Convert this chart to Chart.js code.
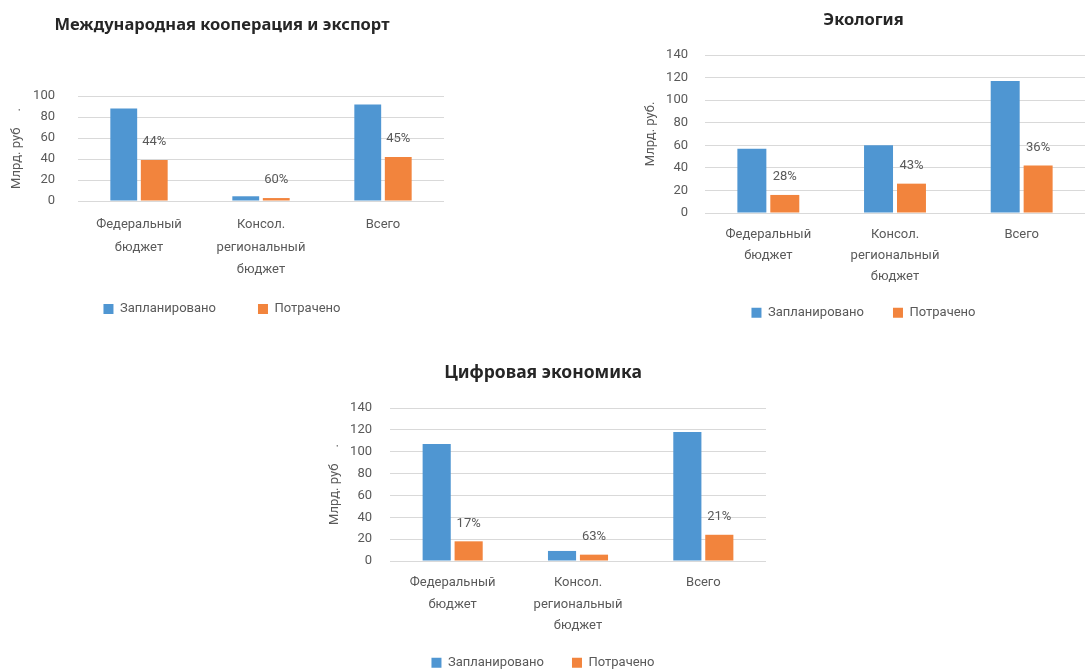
<!DOCTYPE html>
<html lang="ru">
<head>
  <meta charset="UTF-8">
  <title>Нацпроекты - исполнение бюджета</title>
  <script src="https://cdn.jsdelivr.net/npm/chart.js"></script>
  <style>
    html, body { margin: 0; padding: 0; background: #fff; overflow: hidden; }
    body { width: 1085px; height: 670px; position: relative; }
    .box { position: absolute; }
  </style>
</head>
<body>
  <div class="box" style="left:0;top:0;width:444px;height:347px"><canvas id="exportChart"></canvas></div>
  <div class="box" style="left:642px;top:0;width:443px;height:340px"><canvas id="ecoChart"></canvas></div>
  <div class="box" style="left:320px;top:350px;width:446px;height:338px"><canvas id="digitalChart"></canvas></div>

  <script>
    const categories = [['Федеральный', 'бюджет'], ['Консол.', 'региональный', 'бюджет'], 'Всего'];
    const seriesNames = ['Запланировано', 'Потрачено'];
    const axisTitle = 'Млрд. руб';

    // Международная кооперация и экспорт
    const exportPlanned = [88, 4.5, 92];
    const exportSpent = [39, 2.8, 42];
    const exportShare = ['44%', '60%', '45%'];
    const exportMax = 100;

    // Экология
    const ecoPlanned = [57, 60, 117];
    const ecoSpent = [16, 26, 42];
    const ecoShare = ['28%', '43%', '36%'];
    const ecoMax = 140;

    // Цифровая экономика
    const digitalPlanned = [107, 9.2, 118];
    const digitalSpent = [18, 5.8, 24];
    const digitalShare = ['17%', '63%', '21%'];
    const digitalMax = 140;

    const tickStep = 20;

    Chart.defaults.font.family = 'Roboto';
    Chart.defaults.color = '#595959';

    // подписи процентов над оранжевыми столбцами
    const shareLabels = {
      id: 'shareLabels',
      afterDatasetsDraw(chart, args, opts) {
        const ctx = chart.ctx;
        const meta = chart.getDatasetMeta(1);
        ctx.save();
        ctx.font = '13px Roboto';
        ctx.fillStyle = '#595959';
        ctx.textAlign = 'center';
        ctx.textBaseline = 'middle';
        meta.data.forEach((bar, i) => ctx.fillText(opts.labels[i], bar.x, bar.y - 18));
        ctx.restore();
      }
    };

    // легенда ближе к подписям оси, как в исходнике
    const legendShift = {
      id: 'legendShift',
      afterLayout(chart, args, opts) {
        const lg = chart.legend;
        const h = lg.bottom - lg.top;
        lg.top = opts.y - lg.options.labels.padding - 6.5;
        lg.bottom = lg.top + h;
      }
    };

    function makeChart(id, title, planned, spent, share, yMax, g) {
      new Chart(document.getElementById(id), {
        type: 'bar',
        data: {
          labels: categories,
          datasets: [
            { label: seriesNames[0], data: planned, backgroundColor: '#4f96d2' },
            { label: seriesNames[1], data: spent, backgroundColor: '#f2843d' }
          ]
        },
        options: {
          responsive: true,
          maintainAspectRatio: false,
          animation: false,
          categoryPercentage: g.catPct,
          barPercentage: 0.88,
          layout: { padding: 0 },
          plugins: {
            title: {
              display: true,
              text: title,
              color: '#262626',
              font: { size: g.titleSize, weight: 'bold', family: 'Noto Sans', lineHeight: 1.2 },
              padding: { top: g.titleTop, bottom: g.titleBottom }
            },
            legend: {
              position: 'bottom',
              labels: { boxWidth: 10, boxHeight: 10, padding: g.legendPad, font: { size: 13 }, color: '#595959' }
            },
            legendShift: { y: g.legendY },
            tooltip: { enabled: false },
            shareLabels: { labels: share }
          },
          scales: {
            x: {
              grid: { display: false, drawTicks: false },
              border: { display: false },
              ticks: {
                padding: g.xPad,
                maxRotation: 0,
                autoSkip: false,
                font: { size: 13, lineHeight: g.xLine }
              },
              afterFit: s => { s.height = g.xHeight; }
            },
            y: {
              min: 0,
              max: yMax,
              grid: { color: '#d9d9d9', drawTicks: false },
              border: { display: false },
              ticks: { stepSize: tickStep, padding: g.yPad, font: { size: 13 } },
              title: {
                display: true,
                text: g.axisText,
                color: '#595959',
                font: { size: 13, lineHeight: 1.2 },
                padding: { top: g.yTitlePad, bottom: 0 }
              },
              afterFit: s => { s.width = g.yWidth; }
            }
          }
        },
        plugins: [shareLabels, legendShift]
      });
    }

    makeChart('exportChart', 'Международная кооперация и экспорт', exportPlanned, exportSpent, exportShare, exportMax, {
      titleSize: 16.5, catPct: 0.5, titleTop: 15, titleBottom: 61.2, legendPad: 42, legendY: 309,
      xPad: 13, xLine: 1.73, xHeight: 81, yPad: 23, yTitlePad: 9, yWidth: 78,
      axisText: axisTitle + '     .'
    });

    makeChart('ecoChart', 'Экология', ecoPlanned, ecoSpent, ecoShare, ecoMax, {
      titleSize: 16.5, catPct: 0.52, titleTop: 10.4, titleBottom: 24.8, legendPad: 29, legendY: 312.7,
      xPad: 11.5, xLine: 1.615, xHeight: 75, yPad: 17, yTitlePad: 1, yWidth: 63,
      axisText: axisTitle + '.'
    });

    makeChart('digitalChart', 'Цифровая экономика', digitalPlanned, digitalSpent, digitalShare, digitalMax, {
      titleSize: 17.5, catPct: 0.51, titleTop: 13, titleBottom: 24, legendPad: 28, legendY: 312.7,
      xPad: 11.25, xLine: 1.654, xHeight: 76, yPad: 18, yTitlePad: 7.2, yWidth: 70,
      axisText: axisTitle + '     .'
    });
  </script>
</body>
</html>
